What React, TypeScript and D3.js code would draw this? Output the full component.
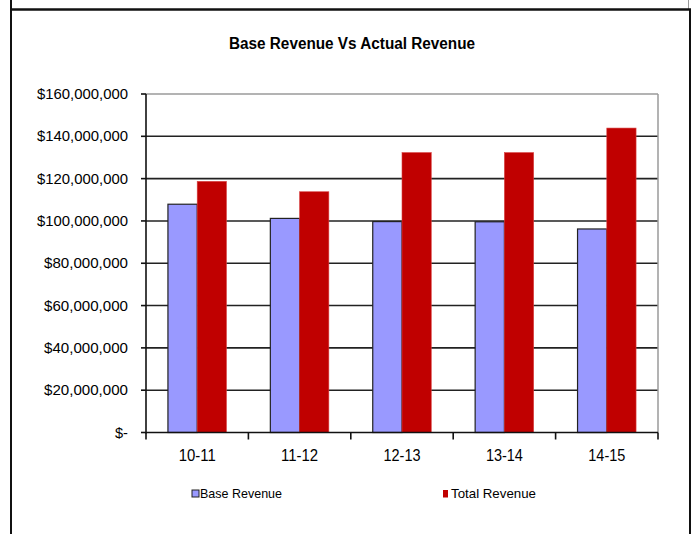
import React from "react";
import * as d3 from "d3";

const categories = ["10-11", "11-12", "12-13", "13-14", "14-15"];
const seriesNames = ["Base Revenue", "Total Revenue"];
const baseRevenue = [107900000, 101200000, 99700000, 99600000, 96200000];
const totalRevenue = [118700000, 113800000, 132300000, 132300000, 143900000];
const yTicks = [0, 20000000, 40000000, 60000000, 80000000, 100000000, 120000000, 140000000, 160000000];
const yTickLabels = ["$-", "$20,000,000", "$40,000,000", "$60,000,000", "$80,000,000", "$100,000,000", "$120,000,000", "$140,000,000", "$160,000,000"];
const title = "Base Revenue Vs Actual Revenue";

const W = 696;
const H = 534;
const left = 146;
const right = 658;
const top = 94;
const bottom = 432.5;
const colors = ["#9999FF", "#C00000"];
const font = "'Liberation Sans', Arial, sans-serif";

export default function App() {
  const y = d3.scaleLinear().domain([0, 160000000]).range([bottom, top]);
  const x0 = d3.scaleBand<string>().domain(categories).range([left, right]).paddingInner(0).paddingOuter(0);
  const step = x0.step();
  const bw = step / 3.5;
  const x1 = d3.scaleBand<string>().domain(seriesNames).range([0, 2 * bw]);
  const series = [baseRevenue, totalRevenue];

  return (
    <svg width={W} height={H} style={{ position: "absolute", left: 0, top: 0, background: "#fff" }}>
      <rect x={0} y={0} width={W} height={H} fill="#fff" />
      {/* outer frame */}
      <line x1={11} y1={0} x2={11} y2={H} stroke="#111" strokeWidth={2} />
      <line x1={688.5} y1={0} x2={688.5} y2={9} stroke="#999" strokeWidth={1} />
      <line x1={690} y1={9} x2={690} y2={H} stroke="#111" strokeWidth={2} />
      <line x1={10} y1={9.5} x2={691} y2={9.5} stroke="#111" strokeWidth={2.5} />

      {/* title */}
      <text x={352} y={49} textAnchor="middle" fontFamily={font} fontWeight="bold" fontSize={16}
        textLength={246} lengthAdjust="spacingAndGlyphs" fill="#000">{title}</text>

      {/* gridlines */}
      {yTicks.slice(1, -1).map((t) => (
        <line key={t} x1={left} x2={right} y1={y(t)} y2={y(t)} stroke="#222" strokeWidth={1.6} />
      ))}
      {/* plot border */}
      <line x1={left} x2={right} y1={y(160000000)} y2={y(160000000)} stroke="#9a9a9a" strokeWidth={1.5} />
      <line x1={right} x2={right} y1={top} y2={bottom} stroke="#9a9a9a" strokeWidth={1.5} />

      {/* bars */}
      {categories.map((c, i) => (
        <g key={c} transform={`translate(${(x0(c) as number) + step * 0.75 / 3.5},0)`}>
          {seriesNames.map((s, j) => (
            <rect key={s} x={x1(s) as number} width={x1.bandwidth()} y={y(series[j][i])}
              height={bottom - y(series[j][i])} fill={colors[j]}
              stroke={j === 0 ? "#222" : "#d84040"} strokeWidth={j === 0 ? 1.2 : 0.6} />
          ))}
        </g>
      ))}

      {/* y axis */}
      <line x1={left} x2={left} y1={top} y2={bottom + 1} stroke="#111" strokeWidth={1.6} />
      {yTicks.map((t, i) => (
        <g key={t}>
          <line x1={left - 5} x2={left} y1={y(t)} y2={y(t)} stroke="#111" strokeWidth={1.6} />
          <text x={128} y={y(t) + 5} textAnchor="end" fontFamily={font} fontSize={14.5} fill="#000"
            textLength={i === 0 ? 13 : yTickLabels[i].length >= 12 ? 91 : 84} lengthAdjust="spacingAndGlyphs">{yTickLabels[i]}</text>
        </g>
      ))}

      {/* x axis */}
      <line x1={left} x2={right} y1={bottom} y2={bottom} stroke="#111" strokeWidth={1.6} />
      {[...categories.map((c) => x0(c) as number), right].map((xx, i) => (
        <line key={i} x1={xx} x2={xx} y1={bottom} y2={bottom + 7} stroke="#111" strokeWidth={1.6} />
      ))}
      {categories.map((c) => (
        <text key={c} x={(x0(c) as number) + step / 2} y={461} textAnchor="middle" fontFamily={font}
          fontSize={16} textLength={37} lengthAdjust="spacingAndGlyphs" fill="#000">{c}</text>
      ))}

      {/* legend */}
      <rect x={192} y={490} width={7} height={7} fill={colors[0]} stroke="#222" strokeWidth={1} />
      <text x={200} y={497.5} fontFamily={font} fontSize={13} textLength={82} lengthAdjust="spacingAndGlyphs" fill="#000">{seriesNames[0]}</text>
      <rect x={443} y={490} width={5} height={7.5} fill={colors[1]} />
      <text x={451} y={497.5} fontFamily={font} fontSize={13} textLength={85} lengthAdjust="spacingAndGlyphs" fill="#000">{seriesNames[1]}</text>
    </svg>
  );
}
